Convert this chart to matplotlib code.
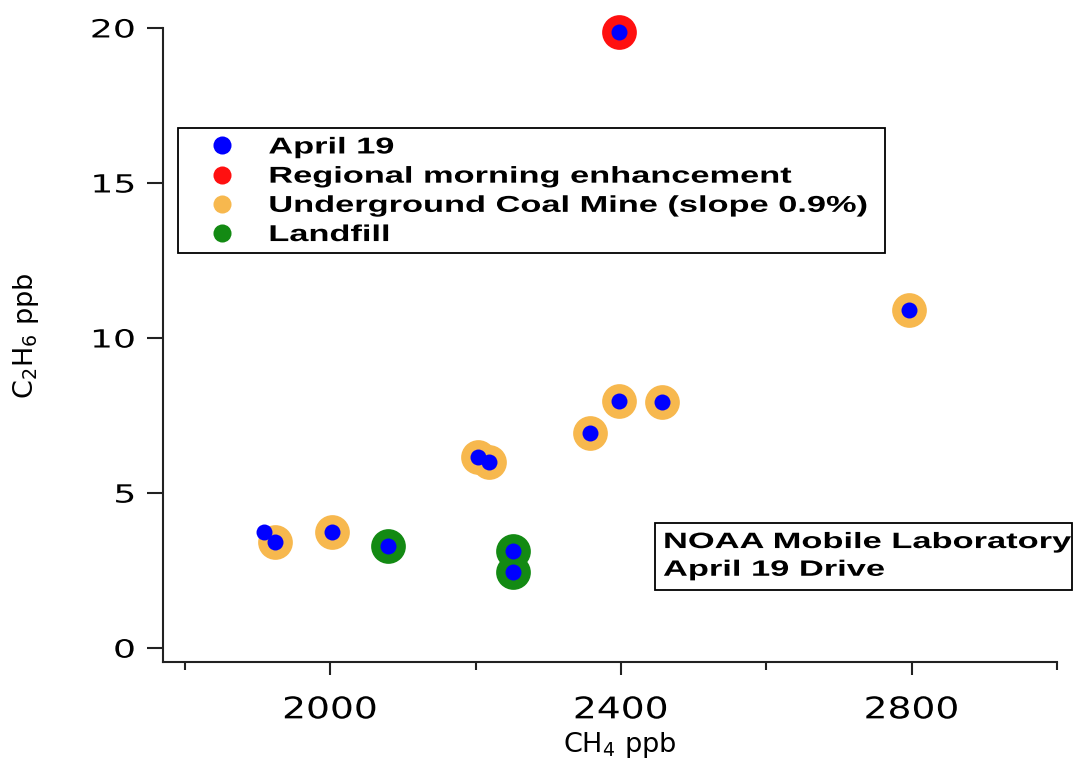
import matplotlib.pyplot as plt
from matplotlib.lines import Line2D
from matplotlib.patches import Rectangle
from matplotlib.patheffects import AbstractPathEffect
from matplotlib.transforms import Affine2D

# April 19 drive: CH4 vs C2H6 enhancements (ppb)
april_ch4 = [1909, 1924, 2003, 2080, 2203, 2219, 2252, 2252, 2357, 2397, 2398, 2456, 2796]
april_c2h6 = [3.74, 3.42, 3.74, 3.29, 6.16, 6.00, 3.13, 2.45, 6.94, 7.97, 19.87, 7.94, 10.90]

regional_ch4 = [2398]
regional_c2h6 = [19.87]

coal_ch4 = [1924, 2003, 2203, 2219, 2357, 2397, 2456, 2796]
coal_c2h6 = [3.42, 3.74, 6.16, 6.00, 6.94, 7.97, 7.94, 10.90]

landfill_ch4 = [2080, 2252, 2252]
landfill_c2h6 = [3.29, 3.13, 2.45]

legend_labels = ['April 19', 'Regional morning enhancement',
                 'Underground Coal Mine (slope 0.9%)', 'Landfill']
note_text = 'NOAA Mobile Laboratory\nApril 19 Drive'

BLUE = '#0000ff'
RED = '#ff1010'
ORANGE = '#f7b84e'
GREEN = '#138a13'

HALO = 25 ** 2
DOT = 11.5 ** 2


class Stretch(AbstractPathEffect):
    """Widen text glyphs horizontally around the left edge, centre or right edge."""

    def __init__(self, sx, anchor='left'):
        super().__init__()
        self.sx = sx
        self.anchor = anchor

    def draw_path(self, renderer, gc, tpath, affine, rgbFace=None):
        ext = tpath.get_extents()
        if self.anchor == 'center':
            x0 = 0.5 * (ext.x0 + ext.x1)
        elif self.anchor == 'right':
            x0 = ext.x1
        else:
            x0 = 0.0
        widen = Affine2D().translate(-x0, 0).scale(self.sx, 1).translate(x0, 0)
        renderer.draw_path(gc, tpath, widen + affine, rgbFace)


fig = plt.figure(figsize=(10.76, 7.62), dpi=100)
ax = fig.add_axes([0.1515, 0.1312, 0.8308, 0.8321])

ax.scatter(regional_ch4, regional_c2h6, s=HALO, color=RED, lw=0, clip_on=False, zorder=2)
ax.scatter(coal_ch4, coal_c2h6, s=HALO, color=ORANGE, lw=0, clip_on=False, zorder=2)
ax.scatter(landfill_ch4, landfill_c2h6, s=HALO, color=GREEN, lw=0, clip_on=False, zorder=2)
ax.scatter(april_ch4, april_c2h6, s=DOT, color=BLUE, lw=0, clip_on=False, zorder=3)

ax.set_xlim(1770, 3000)
ax.set_ylim(-0.45, 20)
ax.set_xticks([2000, 2400, 2800])
ax.set_xticks([1800, 2200, 2600, 3000], minor=True)
ax.set_yticks([0, 5, 10, 15, 20])

for side in ['top', 'right']:
    ax.spines[side].set_visible(False)
for side in ['left', 'bottom']:
    ax.spines[side].set_linewidth(1.5)
    ax.spines[side].set_color('#222222')

ax.tick_params(axis='y', length=11.5, width=1.5, pad=8.5, labelsize=18, color='#222222')
ax.tick_params(axis='x', which='major', length=9.5, width=1.5, pad=14.5, labelsize=21.5,
               color='#222222')
ax.tick_params(axis='x', which='minor', length=6, width=1.5, color='#222222')
for t in ax.get_xticklabels():
    t.set_path_effects([Stretch(1.26, 'center')])
for t in ax.get_yticklabels():
    t.set_path_effects([Stretch(1.45, 'right')])

ax.set_xlabel('CH$_4$ ppb', fontsize=19.5, va='top')
ax.xaxis.set_label_coords(0.511, -0.107)
ax.set_ylabel('C$_2$H$_6$ ppb', fontsize=19.5)
ax.yaxis.set_label_coords(-0.136, 0.514)

handles = [Line2D([], [], ls='', marker='o', ms=13, mew=0, color=c)
           for c in [BLUE, RED, ORANGE, GREEN]]
leg = ax.legend(handles, legend_labels, loc='upper left',
                bbox_to_anchor=(0.0168, 0.5, 0.791, 0.342), mode='expand',
                prop={'family': 'Liberation Sans', 'weight': 'bold', 'size': 16.5},
                frameon=True, fancybox=False, edgecolor='black', framealpha=1,
                borderpad=0.32, labelspacing=0.27, handletextpad=0.42, handlelength=3.2,
                borderaxespad=0, numpoints=1)
leg.get_frame().set_linewidth(1.3)
for t in leg.get_texts():
    t.set_path_effects([Stretch(1.5, 'left')])

# instrument note in the lower right
ax.add_patch(Rectangle((0.5503, 0.1136), 0.4665, 0.1056, transform=ax.transAxes,
                       fc='white', ec='black', lw=1.3, clip_on=False, zorder=4))
note = ax.text(0.5593, 0.205, note_text, transform=ax.transAxes,
               family='Liberation Sans', weight='bold', fontsize=16, va='top', ha='left',
               linespacing=1.42, zorder=5)
note.set_path_effects([Stretch(1.55, 'left')])

fig.savefig('out.png', dpi=100)
